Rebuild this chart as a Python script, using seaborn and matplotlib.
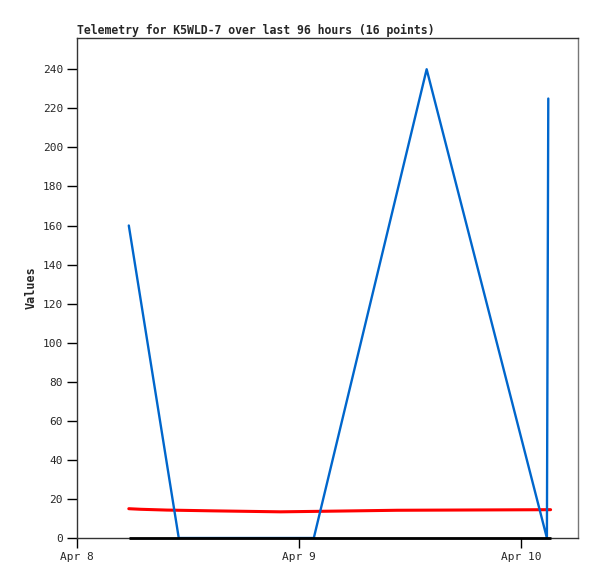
import matplotlib
matplotlib.use("Agg")
import matplotlib.pyplot as plt
import matplotlib.dates as mdates
import seaborn as sns
import pandas as pd
import numpy as np

# Data (hours after Apr 8 00:00)
blue_hours = [5.6, 11.0, 25.6, 37.8, 50.8, 50.95]
blue_values = [160, 0, 0, 240, 0, 225]
red_hours = [5.6, 6.9, 9.7, 14.7, 22.0, 28.5, 34.6, 51.2]
red_values = [15.0, 14.7, 14.3, 13.9, 13.4, 13.8, 14.2, 14.5]
black_hours = [5.6, 51.2]
black_values = [0, 0]
yticks = list(range(0, 241, 20))
title = "Telemetry for K5WLD-7 over last 96 hours (16 points)"

base = pd.Timestamp("2024-04-08 00:00")
def mk(h, v):
    return pd.DataFrame({"t": [base + pd.Timedelta(hours=x) for x in h], "v": v})

sns.set_theme(style="white")
plt.rcParams['font.family'] = ['DejaVu Sans Mono']

fig = plt.figure(figsize=(5.97, 5.79), dpi=100)
ax = fig.add_axes([77/597, 1-538/579, (578-77)/597, (538-38)/579])

sns.lineplot(data=mk(red_hours, red_values), x="t", y="v", ax=ax, color="#ff0000", lw=2.2)
sns.lineplot(data=mk(blue_hours, blue_values), x="t", y="v", ax=ax, color="#0066cc", lw=1.7)
sns.lineplot(data=mk(black_hours, black_values), x="t", y="v", ax=ax, color="black", lw=2,
             zorder=5, clip_on=False, solid_capstyle="butt")

ax.set_xlim(base, base + pd.Timedelta(hours=(578-77)/222*24))
ax.set_ylim(0, 256)
ax.set_yticks(yticks)
ax.xaxis.set_major_locator(mdates.DayLocator())
ax.xaxis.set_major_formatter(mdates.DateFormatter("%b %-d"))
ax.tick_params(axis="both", labelsize=8, length=7, width=1, color="black", direction="out",
               left=True, bottom=True, pad=3)
ax.set_xlabel("")
ax.set_ylabel("Values", fontsize=8.5, fontweight="bold", labelpad=4)
ax.set_title(title, loc="left", fontsize=8.3, fontweight="bold", pad=3)
for s in ax.spines.values():
    s.set_color("#333333")
    s.set_linewidth(1)
ax.spines["right"].set_color("#777777")

fig.savefig("out.png", dpi=100)
